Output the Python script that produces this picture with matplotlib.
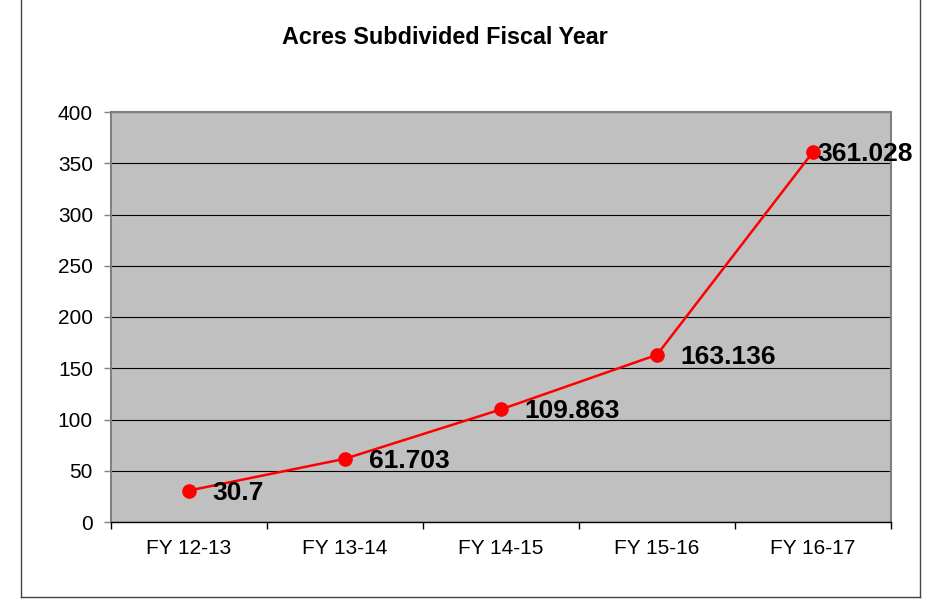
import numpy as np
import matplotlib.pyplot as plt
from matplotlib.lines import Line2D

plt.rcParams['font.family'] = ['Liberation Sans', 'DejaVu Sans']

# data to plot
years = ['FY 12-13', 'FY 13-14', 'FY 14-15', 'FY 15-16', 'FY 16-17']
acres = [30.7, 61.703, 109.863, 163.136, 361.028]
labels = ['30.7', '61.703', '109.863', '163.136', '361.028']

fig = plt.figure(figsize=(9.32, 6.06), dpi=100)
ax = fig.add_axes([111 / 932, 84 / 606, 780 / 932, 410 / 606])

# outer chart frame (top edge is off the picture)
frame_col = '#444444'
fig.add_artist(Line2D([21 / 932, 21 / 932], [9 / 606, 1.01], color=frame_col, lw=1.0, transform=fig.transFigure))
fig.add_artist(Line2D([920 / 932, 920 / 932], [9 / 606, 1.01], color=frame_col, lw=1.0, transform=fig.transFigure))
fig.add_artist(Line2D([21 / 932, 920 / 932], [9 / 606, 9 / 606], color=frame_col, lw=1.0, transform=fig.transFigure))

ax.set_facecolor('#C0C0C0')
index = np.arange(len(years))
ax.plot(index, acres, color='#FF0000', lw=1.8, marker='o', markersize=9.5,
        markerfacecolor='#FF0000', markeredgecolor='#FF0000', zorder=3, clip_on=False)

for i in range(len(acres)):
    dx = 17 if i < len(acres) - 1 else 3
    ax.annotate(labels[i], (index[i], acres[i]), xytext=(dx, -1.5), textcoords='offset points',
                ha='left', va='center', fontsize=19, fontweight='bold', color='black',
                annotation_clip=False, zorder=4)

ax.set_xlim(-0.5, len(years) - 0.5)
ax.set_ylim(0, 400)
ax.set_yticks(np.arange(0, 401, 50))
ax.set_xticks(index)
ax.set_xticklabels(years)
ax.set_xticks(np.arange(-0.5, len(years)), minor=True)
ax.tick_params(axis='x', which='major', length=0, pad=12, labelsize=15)
ax.tick_params(axis='x', which='minor', length=5, width=1, color='black', direction='out')
ax.tick_params(axis='y', length=5, width=1, color='#808080', pad=8, labelsize=15)

ax.yaxis.grid(True, color='black', lw=0.8)
ax.set_axisbelow(True)
for side in ['top', 'right', 'left']:
    ax.spines[side].set_color('#808080')
    ax.spines[side].set_linewidth(1.5)
ax.spines['bottom'].set_color('black')
ax.spines['bottom'].set_linewidth(1.0)

fig.text(445 / 932, 1 - 38 / 606, 'Acres Subdivided Fiscal Year', ha='center', va='center',
         fontsize=16.8, fontweight='bold')

plt.savefig('out.png', dpi=100)
